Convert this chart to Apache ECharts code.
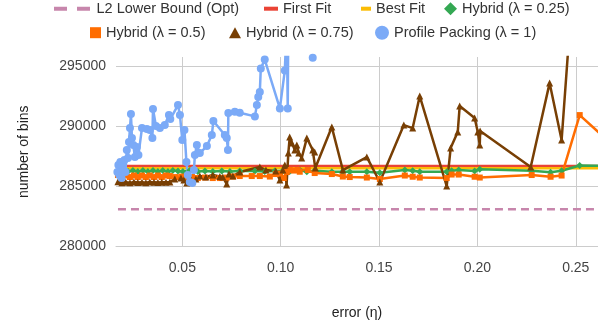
<!DOCTYPE html>
<html lang="en">
<head>
<meta charset="UTF-8">
<title>number of bins vs error</title>
<script src="https://cdn.jsdelivr.net/npm/echarts@6/dist/echarts.min.js"></script>
<style>
  html, body { margin: 0; padding: 0; background: #fff; }
  #chart { width: 598px; height: 330px; }
</style>
</head>
<body>
<div id="chart"></div>
<script>
// [error, bins] per series
var lowerBound = [[0.0173, 283090], [0.2698, 283090]];
var firstFit = [[0.0173, 286686], [0.2698, 286686]];
var bestFit = [[0.0173, 286500], [0.2698, 286500]];

var hybrid25 = [[0.0173,286188],[0.0198,286312],[0.0224,286229],[0.0249,286312],[0.0274,286229],[0.0300,286312],
  [0.0325,286229],[0.0351,286312],[0.0376,286229],[0.0401,286312],[0.0427,286229],[0.0452,286312],[0.0478,286271],
  [0.0503,286229],[0.0538,286312],[0.0579,286229],[0.0615,286271],[0.0655,286229],[0.0701,286271],[0.0742,286229],
  [0.0792,286271],[0.0869,286271],[0.0919,286229],[0.0970,286271],[0.1011,286271],[0.1046,286229],[0.1097,286354],
  [0.1133,286213],[0.1173,286296],[0.1260,286213],[0.1316,286213],[0.1351,286213],[0.1438,286213],[0.1504,286130],
  [0.1631,286354],[0.1671,286296],[0.1707,286213],[0.1844,286213],[0.1869,286296],[0.1905,286354],[0.1986,286271],
  [0.2012,286412],[0.2276,286296],[0.2372,286163],[0.2428,286296],[0.2520,286728],[0.2698,286686]];

var hybrid50 = [[0.0173,285939],[0.0193,285772],[0.0213,285897],[0.0234,285772],[0.0254,285897],[0.0274,285772],
  [0.0295,285897],[0.0315,285772],[0.0335,285897],[0.0356,285772],[0.0376,285897],[0.0396,285772],[0.0417,285897],
  [0.0437,285856],[0.0467,285772],[0.0498,285814],[0.0523,285689],[0.0549,285772],[0.0579,285689],[0.0615,285731],
  [0.0655,285689],[0.0691,285689],[0.0726,285731],[0.0757,285814],[0.0792,285856],[0.0853,285856],[0.0894,285856],
  [0.0945,285814],[0.0975,286022],[0.0996,286063],[0.1016,285689],[0.1031,286188],[0.1046,286354],[0.1067,286312],
  [0.1087,286354],[0.1097,286213],[0.1138,286354],[0.1173,286105],[0.1260,286022],[0.1316,285814],[0.1351,285772],
  [0.1438,285731],[0.1504,285606],[0.1631,285897],[0.1671,285797],[0.1707,285731],[0.1844,285689],[0.1869,285980],
  [0.1905,285980],[0.1986,285797],[0.2012,285731],[0.2276,285939],[0.2372,285797],[0.2428,285897],[0.2520,290922],
  [0.2698,288264]];

var hybrid75 = [[0.0173,285380],[0.0193,285300],[0.0213,285350],[0.0234,285290],[0.0254,285370],[0.0274,285320],
  [0.0295,285340],[0.0315,285300],[0.0335,285360],[0.0356,285330],[0.0376,285310],[0.0396,285350],[0.0417,285340],
  [0.0437,285360],[0.0462,285606],[0.0493,285689],[0.0508,285523],[0.0523,285274],[0.0544,285523],[0.0569,285606],
  [0.0589,285856],[0.0620,285772],[0.0655,285939],[0.0691,285814],[0.0706,285772],[0.0726,285191],[0.0737,286022],
  [0.0757,285856],[0.0792,286188],[0.0894,286603],[0.0925,286354],[0.0975,286271],[0.0996,285523],[0.1011,286354],
  [0.1021,286769],[0.1030,285108],[0.1039,287766],[0.1046,289095],[0.1057,288596],[0.1072,288015],[0.1082,288430],
  [0.1092,287766],[0.1107,287351],[0.1133,289012],[0.1163,288015],[0.1173,287849],[0.1176,286520],[0.1260,289925],
  [0.1316,286354],[0.1438,287434],[0.1504,285357],[0.1626,290092],[0.1671,289842],[0.1707,292500],[0.1844,285025],
  [0.1864,288181],[0.1900,289510],[0.1910,291670],[0.1986,290673],[0.2002,289510],[0.2012,288430],[0.2014,289593],
  [0.2271,286603],[0.2367,293580],[0.2428,288846],[0.2474,299200]];

var profilePacking = [[0.0170,286188],[0.0175,286769],[0.0180,285939],[0.0185,287018],[0.0191,285689],[0.0196,286686],
  [0.0201,286354],[0.0206,287184],[0.0211,286188],[0.0218,288015],[0.0224,287351],[0.0229,288680],[0.0234,289842],
  [0.0239,291005],[0.0244,289012],[0.0251,288430],[0.0259,287434],[0.0269,288264],[0.0277,287600],[0.0295,289842],
  [0.0320,289759],[0.0335,289676],[0.0348,289012],[0.0351,291421],[0.0366,290008],[0.0386,289842],[0.0411,290092],
  [0.0432,290922],[0.0439,290590],[0.0478,291753],[0.0488,290922],[0.0500,288846],[0.0511,289676],[0.0521,287018],
  [0.0528,285939],[0.0538,285357],[0.0551,285274],[0.0559,286354],[0.0564,287600],[0.0574,288430],[0.0589,287766],
  [0.0625,288347],[0.0650,289261],[0.0658,290424],[0.0716,289261],[0.0726,289012],[0.0732,288015],[0.0734,291088],
  [0.0767,291196],[0.0792,291113],[0.0869,290814],[0.0879,291753],[0.0886,292417],[0.0894,292833],[0.0899,294801],
  [0.0919,295532],[0.0996,291479],[0.1021,294618],[0.1031,298500],[0.1036,291479],[0.1039,299000],[0.1163,295690],
  [0.1250,298000]];

var names = ['L2 Lower Bound (Opt)', 'First Fit', 'Best Fit', 'Hybrid (λ = 0.25)',
  'Hybrid (λ = 0.5)', 'Hybrid (λ = 0.75)', 'Profile Packing (λ = 1)'];
var colors = ['#c786ac', '#ea4335', '#fbbc04', '#34a853', '#ff6d01', '#783f04', '#7baaf7'];

var font = "'Liberation Sans', Arial, sans-serif";

// one legend box per entry so each icon can have its own size
var legendIcons = [
  { icon: 'path://M0,0h13v4h-13z M23,0h13v4h-13z', left: 54, top: 1.2, w: 39, h: 4 },
  { icon: 'rect', left: 264, top: 1.2, w: 14, h: 4 },
  { icon: 'rect', left: 361, top: 1.2, w: 10, h: 4 },
  { icon: 'diamond', left: 444, top: 1.2, w: 13, h: 13 },
  { icon: 'rect', left: 90, top: 25.2, w: 11, h: 11 },
  { icon: 'triangle', left: 229, top: 25.2, w: 12, h: 11 },
  { icon: 'circle', left: 375, top: 25.2, w: 14, h: 14 }
];

var legends = legendIcons.map(function (l, i) {
  return {
    data: [{ name: names[i], icon: l.icon }],
    left: l.left, top: l.top,
    itemWidth: l.w, itemHeight: l.h,
    padding: 0,
    selectedMode: false,
    textStyle: { fontFamily: font, fontSize: 14.5, color: '#333' }
  };
});

function lineSeries(i, data, symbol, size, extra) {
  var s = {
    name: names[i],
    type: 'line',
    data: data,
    symbol: symbol,
    symbolSize: size,
    showSymbol: symbol !== 'none',
    itemStyle: { color: colors[i] },
    lineStyle: { color: colors[i], width: 2.5 },
    animation: false
  };
  for (var k in extra) s[k] = extra[k];
  return s;
}

var chart = echarts.init(document.getElementById('chart'));
chart.setOption({
  backgroundColor: '#fff',
  textStyle: { fontFamily: font },
  legend: legends,
  grid: { left: 116, right: 0, top: 57, bottom: 83.5 },
  xAxis: {
    type: 'value',
    min: 0.0163,
    max: 0.2613,
    name: 'error (η)',
    nameLocation: 'middle',
    nameGap: 60,
    nameTextStyle: { fontFamily: font, fontSize: 14, color: '#222' },
    axisLine: { show: true, lineStyle: { color: '#ccc' } },
    axisTick: { show: false },
    axisLabel: {
      color: '#444', fontFamily: font, fontSize: 14, margin: 15,
      showMinLabel: false, showMaxLabel: false,
      formatter: function (v) { return v.toFixed(2); }
    },
    splitLine: { show: true, showMinLine: false, showMaxLine: false, lineStyle: { color: '#ccc' } }
  },
  yAxis: {
    type: 'value',
    min: 280000,
    max: 295750,
    interval: 5000,
    name: 'number of bins',
    nameLocation: 'middle',
    nameGap: 85,
    nameTextStyle: { fontFamily: font, fontSize: 14, color: '#222' },
    axisLine: { show: false },
    axisTick: { show: false },
    axisLabel: {
      color: '#444', fontFamily: font, fontSize: 14, margin: 10,
      showMaxLabel: false,
      formatter: function (v) { return String(v); }
    },
    splitLine: { show: true, showMaxLine: false, lineStyle: { color: '#ccc' } }
  },
  series: [
    lineSeries(0, lowerBound, 'none', 0, { lineStyle: { color: colors[0], width: 2.5, type: [8, 5] } }),
    lineSeries(1, firstFit, 'none', 0),
    lineSeries(2, bestFit, 'none', 0),
    lineSeries(3, hybrid25, 'diamond', 7),
    lineSeries(4, hybrid50, 'rect', 6),
    lineSeries(5, hybrid75, 'triangle', 7),
    lineSeries(6, profilePacking, 'circle', 8)
  ]
});
</script>
</body>
</html>
